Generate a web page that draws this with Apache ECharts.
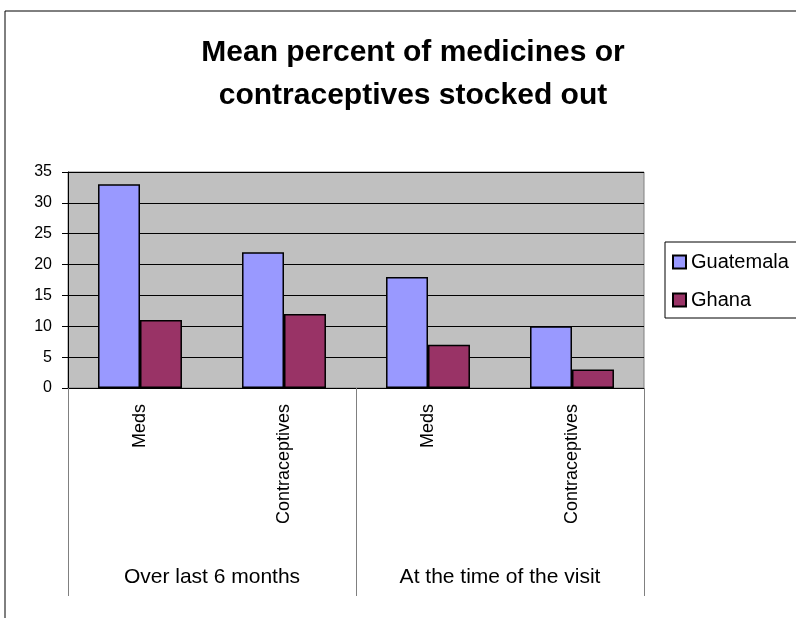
<!DOCTYPE html>
<html>
<head>
<meta charset="utf-8">
<script src="https://cdn.jsdelivr.net/npm/echarts@6/dist/echarts.min.js"></script>
<style>
  html, body { margin: 0; padding: 0; background: #fff; }
  #chart { width: 796px; height: 618px; }
</style>
</head>
<body>
<div id="chart"></div>
<script>
var items = ['Meds', 'Contraceptives', 'Meds', 'Contraceptives'];
var periods = ['Over last 6 months', 'At the time of the visit'];
var guatemala = [33, 22, 18, 10];
var ghana = [11, 12, 7, 3];
var yTicks = [0, 5, 10, 15, 20, 25, 30, 35];

var myChart = echarts.init(document.getElementById('chart'));
var font = 'Arial, "Liberation Sans", sans-serif';
var option = {
    animation: false,
    textStyle: { fontFamily: font },
    graphic: [{
        type: 'rect',
        shape: { x: 5, y: 11, width: 900, height: 700 },
        style: { fill: 'none', stroke: '#000', lineWidth: 1 },
        silent: true
    }],
    title: {
        text: 'Mean percent of medicines or\ncontraceptives stocked out',
        left: 408,
        top: 26,
        textAlign: 'center',
        textStyle: {
            fontFamily: font,
            fontSize: 30,
            fontWeight: 'bold',
            color: '#000',
            lineHeight: 43
        }
    },
    legend: {
        orient: 'vertical',
        left: 665,
        top: 242,
        padding: [10, 12, 8, 7],
        itemGap: 18,
        itemWidth: 13,
        itemHeight: 13,
        icon: 'rect',
        borderColor: '#000',
        borderWidth: 1,
        textStyle: { fontFamily: font, fontSize: 20, color: '#000' },
        data: ['Guatemala', 'Ghana']
    },
    grid: {
        left: 68,
        right: 152,
        top: 172,
        bottom: 230,
        show: true,
        backgroundColor: '#c0c0c0',
        borderColor: '#808080',
        borderWidth: 1
    },
    xAxis: [
        {
            type: 'category',
            data: items,
            axisLine: { lineStyle: { color: '#000' } },
            axisTick: { show: false },
            axisLabel: {
                rotate: 90,
                margin: 16,
                fontSize: 18,
                color: '#000',
                fontFamily: font
            }
        },
        {
            type: 'category',
            data: periods,
            position: 'bottom',
            offset: 208,
            axisLine: { show: false },
            axisTick: {
                show: true,
                inside: true,
                length: 208,
                lineStyle: { color: '#808080' }
            },
            axisLabel: {
                inside: true,
                margin: 8,
                fontSize: 21,
                color: '#000',
                fontFamily: font
            }
        }
    ],
    yAxis: {
        type: 'value',
        min: yTicks[0],
        max: yTicks[yTicks.length - 1],
        interval: 5,
        axisLine: { show: true, lineStyle: { color: '#000' } },
        axisTick: { show: true, length: 6, lineStyle: { color: '#000' } },
        axisLabel: { margin: 16, fontSize: 16, color: '#000', fontFamily: font },
        splitLine: { lineStyle: { color: '#000', width: 1 } }
    },
    series: [
        {
            name: 'Guatemala',
            type: 'bar',
            data: guatemala,
            barGap: '0%',
            barCategoryGap: '41.7%',
            itemStyle: { color: '#9999ff', borderColor: '#000', borderWidth: 1.5 }
        },
        {
            name: 'Ghana',
            type: 'bar',
            data: ghana,
            itemStyle: { color: '#993366', borderColor: '#000', borderWidth: 1.5 }
        }
    ]
};
myChart.setOption(option);
</script>
</body>
</html>
